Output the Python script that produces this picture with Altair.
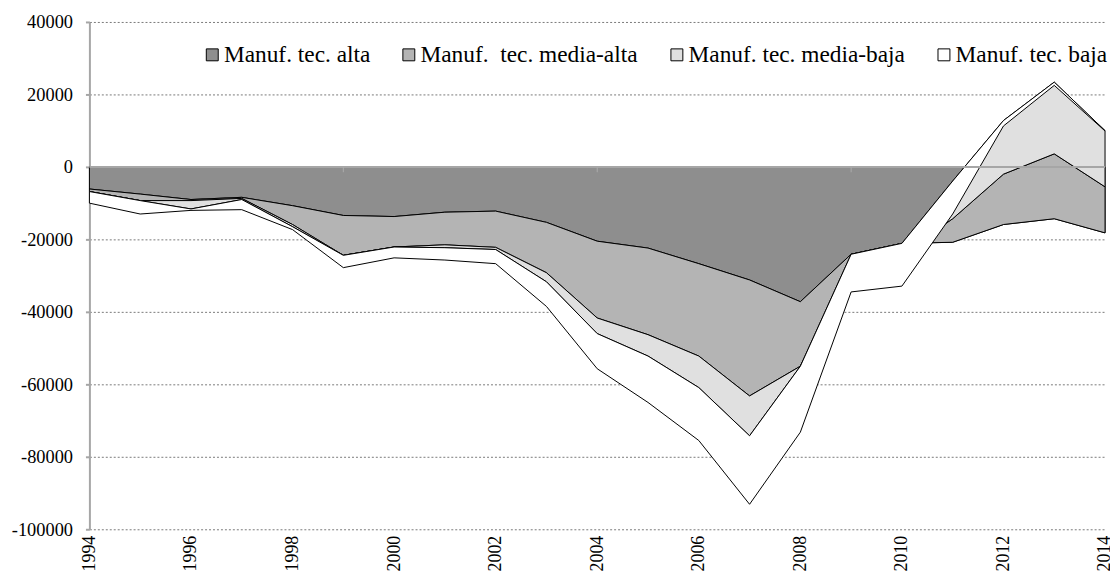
import altair as alt
import pandas as pd

years = list(range(1994, 2015))

# Saldo comercial por nivel tecnológico (valores de cada serie, apilados como en el original)
alta = [-6100, -7500, -9000, -8400, -10700, -13400, -13700, -12500, -12200, -15300, -20500,
        -22400, -26700, -31200, -37200, -24100, -21100, -20800, -15900, -14300, -18200]
media_alta = [-700, -1800, -300, -300, -5200, -11000, -8400, -9000, -10000, -13900, -21200,
              -23900, -25500, -32000, -17800, -3900, -2900, 6500, 13900, 17900, 12700]
media_baja = [0, 0, -2300, -300, -600, 0, 0, -800, -600, -2500, -4300,
              -5900, -8700, -11000, 0, 3900, 2900, 10400, 14800, 19800, 15500]
baja = [-3200, -3700, -400, -2800, -800, -3400, -3000, -3400, -3900, -6800, -9700,
        -12800, -14600, -18900, -18200, -10400, -11800, -9100, -1500, -900, -100]

series_names = ["Manuf. tec. alta", "Manuf.\u00a0 tec. media-alta",
                "Manuf. tec. media-baja", "Manuf. tec. baja"]
fills = ["#8e8e8e", "#b4b4b4", "#e0e0e0", "#ffffff"]
y_ticks = [-100000, -80000, -60000, -40000, -20000, 0, 20000, 40000]
x_ticks = list(range(1994, 2015, 2))
zero_ticks = [1999, 2004, 2009]

rows = []
cum = [0] * len(years)
for name, vals in zip(series_names, [alta, media_alta, media_baja, baja]):
    for i, yr in enumerate(years):
        rows.append({"year": yr, "serie": name, "lo": cum[i], "hi": cum[i] + vals[i]})
    cum = [c + v for c, v in zip(cum, vals)]
df = pd.DataFrame(rows)

FONT = "Liberation Serif"

x_scale = alt.Scale(domain=[1994, 2014], nice=False, zero=False)
x_enc = alt.X("year:Q", scale=x_scale,
              axis=alt.Axis(values=x_ticks, labelAngle=270, labelExpr="datum.value + ''",
                            title=None, domain=False, ticks=False, grid=False,
                            labelFont=FONT, labelFontSize=18, labelColor="#000",
                            labelPadding=6, labelAlign="right", labelBaseline="middle"))
y_scale = alt.Scale(domain=[-100000, 40000], nice=False, zero=False)
y_enc = alt.Y("lo:Q", scale=y_scale,
              axis=alt.Axis(values=y_ticks, title=None, labelExpr="datum.value + ''",
                            labelFont=FONT, labelFontSize=18.5, labelColor="#000",
                            labelPadding=13, tickSize=4, tickColor="#a6a6a6", tickWidth=2,
                            domainColor="#a6a6a6", domainWidth=2,
                            grid=True, gridColor="#7a7a7a", gridDash=[2, 2], gridWidth=1))

color = alt.Color("serie:N",
                  scale=alt.Scale(domain=series_names, range=fills),
                  legend=alt.Legend(title=None, orient="none", direction="horizontal",
                                    columns=4, legendX=112, legendY=21,
                                    symbolType="square", symbolSize=144,
                                    symbolStrokeColor="black", symbolStrokeWidth=1,
                                    symbolOpacity=1, labelFont=FONT, labelFontSize=23.5,
                                    labelColor="#000", labelOffset=0, columnPadding=27,
                                    padding=0, labelLimit=400))

layers = []
for i, name in enumerate(series_names):
    layer = alt.Chart(df).transform_filter(alt.datum.serie == name).mark_area(
        stroke="black", strokeWidth=1, opacity=1, interpolate="linear"
    ).encode(
        x=x_enc if i == 0 else alt.X("year:Q"),
        y=y_enc if i == 0 else alt.Y("lo:Q"),
        y2="hi:Q",
        color=color,
        order=alt.value(0),
    )
    layers.append(layer)

zero = alt.Chart(pd.DataFrame({"v": [0]})).mark_rule(color="#a6a6a6", strokeWidth=2).encode(
    y=alt.Y("v:Q", scale=y_scale)
)

ticks0 = alt.Chart(pd.DataFrame({"year": zero_ticks, "v": [0] * len(zero_ticks)})).mark_tick(
    orient="vertical", size=5, thickness=1, color="#b8b8b8", yOffset=3
).encode(
    x=alt.X("year:Q", scale=x_scale),
    y=alt.Y("v:Q", scale=y_scale),
)

chart = alt.layer(*layers, zero, ticks0).properties(
    width=1023, height=511,
    autosize=alt.AutoSizeParams(type="none"),
    padding={"left": 82, "top": 12, "right": 5, "bottom": 44},
).configure_view(stroke=None)

chart.save("out.html", embed_options={"renderer": "svg", "actions": False})
